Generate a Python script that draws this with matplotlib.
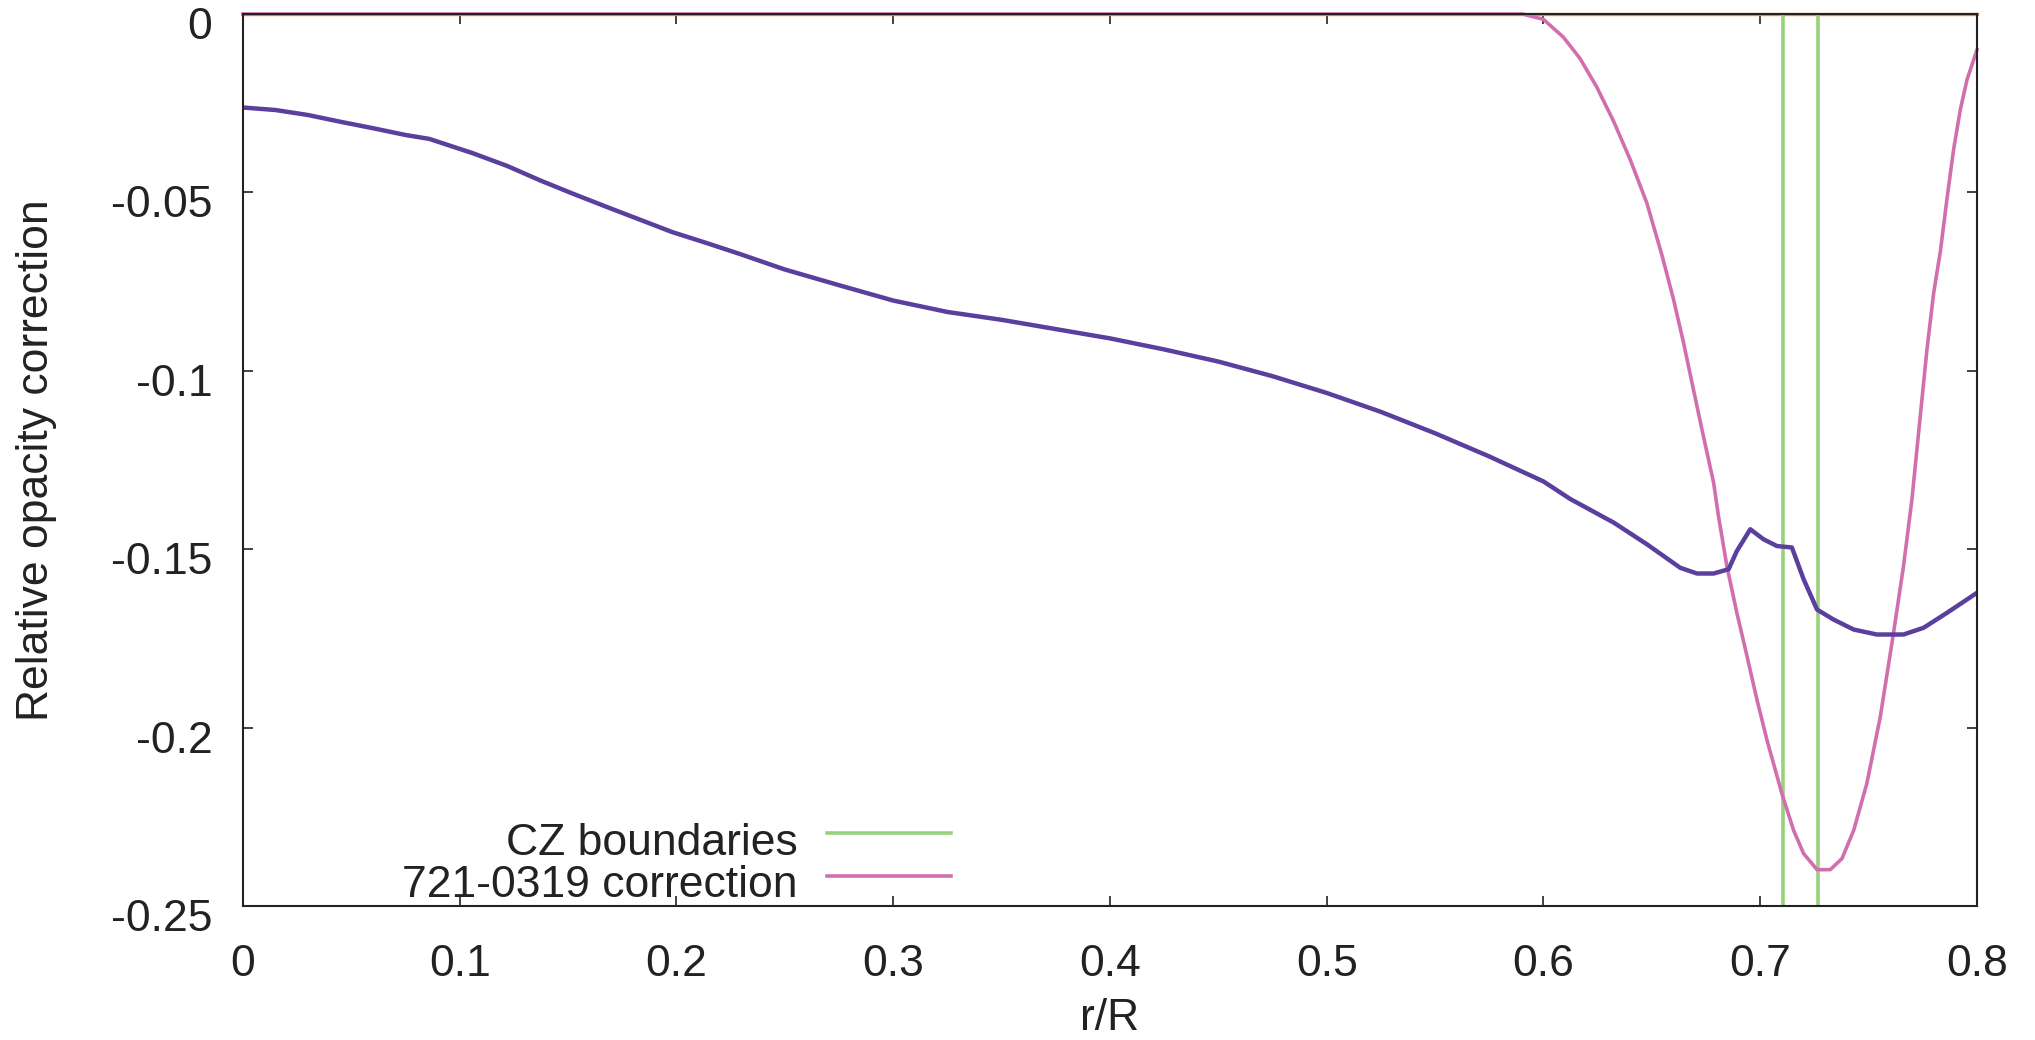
import matplotlib
matplotlib.use("Agg")
import matplotlib.pyplot as plt
import matplotlib.transforms as mtransforms
import numpy as np

plt.rcParams['font.family'] = ['Liberation Sans', 'DejaVu Sans']
plt.rcParams['axes.unicode_minus'] = False

# 721-0319 correction (pink)
corr_r = [0.0, 0.5905, 0.6, 0.6092, 0.6169, 0.6246, 0.6323, 0.64, 0.6477, 0.6546,
          0.66, 0.6646, 0.6692, 0.6738, 0.6785, 0.6808, 0.6846, 0.6892, 0.6939, 0.6985,
          0.7031, 0.71, 0.7154, 0.72, 0.7262, 0.7323, 0.7377, 0.7431, 0.7492, 0.7554,
          0.7615, 0.7661, 0.77, 0.7738, 0.7769, 0.78, 0.7831, 0.7861, 0.7892, 0.7923,
          0.7954, 0.8]
corr_val = [0.0, 0.0, -0.0015, -0.0065, -0.0125, -0.0205, -0.0300, -0.0408, -0.053, -0.0675,
            -0.080, -0.0921, -0.1053, -0.1184, -0.1314, -0.141, -0.1547, -0.1678, -0.18, -0.1922,
            -0.2035, -0.2185, -0.2288, -0.2353, -0.2398, -0.2398, -0.2367, -0.2288, -0.2156, -0.1969,
            -0.1734, -0.1547, -0.1359, -0.1128, -0.0941, -0.0782, -0.0665, -0.052, -0.038, -0.0268,
            -0.0184, -0.010]

# second profile (purple, no key entry)
prof_r = [0.0, 0.015, 0.03, 0.045, 0.06, 0.075, 0.086, 0.106, 0.122, 0.137,
          0.152, 0.168, 0.183, 0.198, 0.214, 0.229, 0.25, 0.275, 0.3, 0.325,
          0.35, 0.375, 0.4, 0.425, 0.45, 0.475, 0.5, 0.525, 0.55, 0.575,
          0.6, 0.6123, 0.6323, 0.6477, 0.6631, 0.6708, 0.6785, 0.6854, 0.6892, 0.6954,
          0.7015, 0.7077, 0.7146, 0.72, 0.7262, 0.7338, 0.7431, 0.7538, 0.7661, 0.7754,
          0.7862, 0.8]
prof_val = [-0.0262, -0.0269, -0.0283, -0.0302, -0.032, -0.0339, -0.035, -0.039, -0.0426, -0.0466,
            -0.0503, -0.0541, -0.0576, -0.0611, -0.0642, -0.0672, -0.0716, -0.076, -0.0803, -0.0835,
            -0.0857, -0.0883, -0.0909, -0.094, -0.0974, -0.1015, -0.1062, -0.1115, -0.1175, -0.124,
            -0.131, -0.1359, -0.1425, -0.1486, -0.1552, -0.1568, -0.1568, -0.1556, -0.1505, -0.1444,
            -0.1472, -0.1491, -0.1495, -0.1584, -0.1669, -0.1697, -0.1725, -0.1739, -0.1739, -0.172,
            -0.1678, -0.1622]

# zero line (orange)
zero_r = [0.0, 0.8]
zero_val = [0.0, 0.0]

# CZ boundaries (green)
cz_bounds = [0.7103, 0.7265]

xticks = [0, 0.1, 0.2, 0.3, 0.4, 0.5, 0.6, 0.7, 0.8]
xtick_labels = ["0", "0.1", "0.2", "0.3", "0.4", "0.5", "0.6", "0.7", "0.8"]
yticks = [0, -0.05, -0.1, -0.15, -0.2, -0.25]
ytick_labels = ["0", "-0.05", "-0.1", "-0.15", "-0.2", "-0.25"]

c_purple = '#5b3f9e'
c_pink = '#d16fae'
c_green = '#99d07c'
c_orange = '#f08a3c'
c_text = '#222222'
fs = 32

fig = plt.figure(figsize=(20.35, 10.4), dpi=100)
ax = fig.add_axes([0.1194, 0.1288, 0.9715 - 0.1194, 0.9865 - 0.1288])

ax.plot(zero_r, zero_val, color=c_orange, lw=2.4, clip_on=False)
for xb in cz_bounds:
    ax.axvline(xb, color=c_green, lw=2.6)
ax.plot(corr_r, corr_val, color=c_pink, lw=2.6, clip_on=False)
ax.plot(prof_r, prof_val, color=c_purple, lw=3.2)

ax.set_xlim(0, 0.8)
ax.set_ylim(-0.25, 0)
ax.set_xticks(xticks)
ax.set_xticklabels(xtick_labels)
ax.set_yticks(yticks)
ax.set_yticklabels(ytick_labels)
ax.tick_params(direction='in', length=7, width=1.2, top=True, right=True,
               labelsize=fs, colors=c_text)
ax.tick_params(axis='x', pad=27)
ax.tick_params(axis='y', pad=22)
for s in ax.spines.values():
    s.set_linewidth(1.5)
    s.set_color(c_text)

# gnuplot puts the y labels a bit below the ticks
shift = mtransforms.ScaledTranslation(0, -0.09, fig.dpi_scale_trans)
for lab in ax.get_yticklabels():
    lab.set_transform(lab.get_transform() + shift)

ax.set_xlabel("r/R", fontsize=fs, color=c_text, va='center')
ax.xaxis.set_label_coords(0.5, -0.126)
ax.set_ylabel("Relative opacity correction", fontsize=fs, color=c_text, va='center')
ax.yaxis.set_label_coords(-0.119, 0.5)

# key, gnuplot style: text right-aligned, sample to the right
keys = [("CZ boundaries", c_green, 0.0818, 0.0706),
        ("721-0319 correction", c_pink, 0.0336, 0.0235)]
for lab, col, ly, ty in keys:
    ax.text(0.320, ty, lab, ha='right', va='center', fontsize=fs,
            color=c_text, transform=ax.transAxes)
    ax.plot([0.3368, 0.4083], [ly, ly], color=col, lw=2.6, transform=ax.transAxes)

fig.savefig("out.png", dpi=100)
